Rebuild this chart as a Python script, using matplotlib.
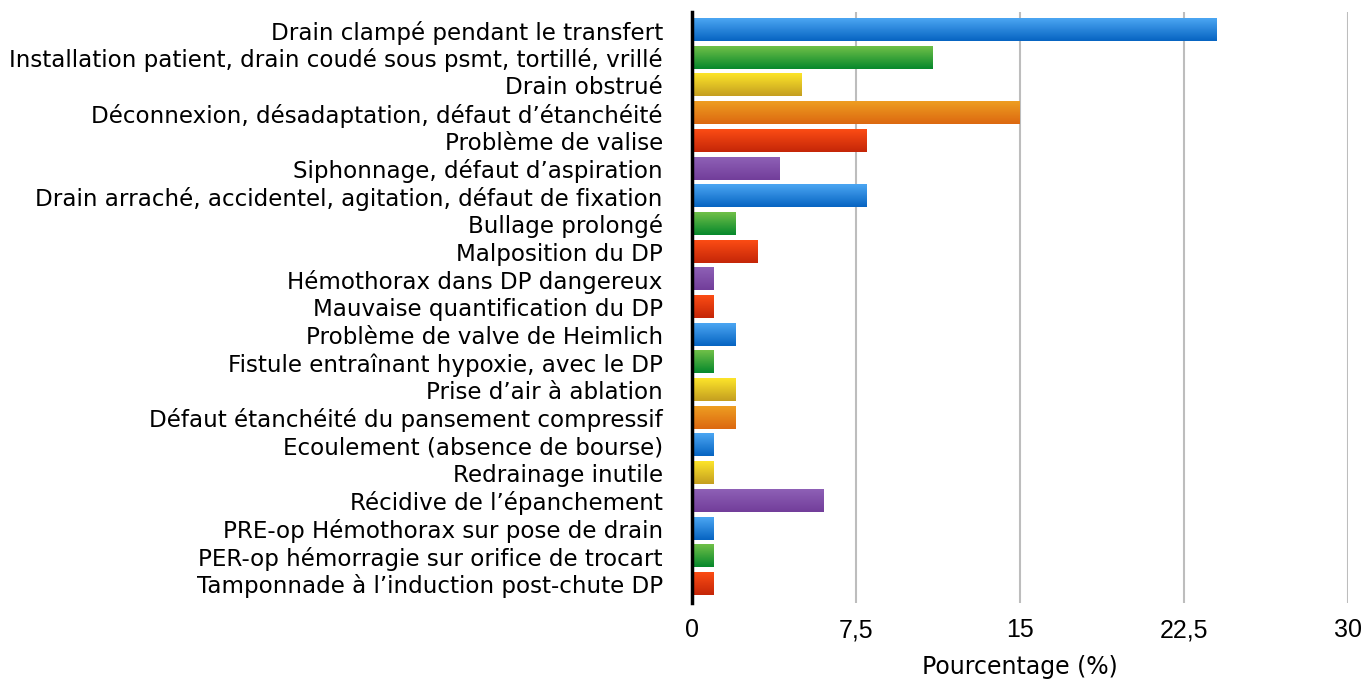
import numpy as np
import matplotlib.pyplot as plt
from matplotlib.colors import LinearSegmentedColormap

categories = [
    "Drain clampé pendant le transfert",
    "Installation patient, drain coudé sous psmt, tortillé, vrillé",
    "Drain obstrué",
    "Déconnexion, désadaptation, défaut d’étanchéité",
    "Problème de valise",
    "Siphonnage, défaut d’aspiration",
    "Drain arraché, accidentel, agitation, défaut de fixation",
    "Bullage prolongé",
    "Malposition du DP",
    "Hémothorax dans DP dangereux",
    "Mauvaise quantification du DP",
    "Problème de valve de Heimlich",
    "Fistule entraînant hypoxie, avec le DP",
    "Prise d’air à ablation",
    "Défaut étanchéité du pansement compressif",
    "Ecoulement (absence de bourse)",
    "Redrainage inutile",
    "Récidive de l’épanchement",
    "PRE-op Hémothorax sur pose de drain",
    "PER-op hémorragie sur orifice de trocart",
    "Tamponnade à l’induction post-chute DP",
]
values = [24, 11, 5, 15, 8, 4, 8, 2, 3, 1, 1, 2, 1, 2, 2, 1, 1, 6, 1, 1, 1]
bar_colors = ["blue", "green", "yellow", "orange", "red", "purple", "blue", "green",
              "red", "purple", "red", "blue", "green", "yellow", "orange", "blue",
              "yellow", "purple", "blue", "green", "red"]
x_ticks = [0, 7.5, 15, 22.5, 30]
x_tick_labels = ["0", "7,5", "15", "22,5", "30"]

# top / bottom colours of the gradient fill
gradients = {
    "blue": ("#4ba6f2", "#0764c2"),
    "green": ("#70c048", "#06882c"),
    "yellow": ("#fde52a", "#c49e20"),
    "orange": ("#ee9e22", "#dc6810"),
    "red": ("#fc4c14", "#c42608"),
    "purple": ("#8e60b6", "#723e9a"),
}

plt.rcParams['font.family'] = ['DejaVu Sans']

fig = plt.figure(figsize=(13.67, 6.83), dpi=100)
ax = fig.add_axes([692 / 1367, 1 - 603 / 683, 656 / 1367, 591 / 683])

h = 0.8
grad = np.linspace(0, 1, 64).reshape(-1, 1)
for i, (v, c) in enumerate(zip(values, bar_colors)):
    top, bot = gradients[c]
    cmap = LinearSegmentedColormap.from_list(c, [top, bot])
    ax.imshow(grad, cmap=cmap, aspect='auto', interpolation='bicubic',
              extent=(0, v, i + h / 2, i - h / 2), zorder=2)

ax.set_xlim(0, 30)
ax.set_ylim(len(values) - 1 + 0.69, -0.65)
ax.set_yticks(range(len(categories)))
ax.set_yticklabels(categories, fontsize=16.6)
ax.set_xticks(x_ticks)
ax.set_xticklabels(x_tick_labels, fontsize=18,
                   family=['Liberation Sans Narrow', 'Liberation Sans', 'DejaVu Sans'])
ax.tick_params(axis='both', length=0)
ax.tick_params(axis='y', pad=21)
ax.tick_params(axis='x', pad=11)
ax.set_xlabel("Pourcentage (%)", fontsize=17, labelpad=9)

for x in x_ticks[1:]:
    ax.axvline(x, color='#bdbdbd', lw=1.5, zorder=1)
for s in ['top', 'right', 'bottom']:
    ax.spines[s].set_visible(False)
ax.spines['left'].set_linewidth(2.5)
ax.spines['left'].set_zorder(3)

fig.savefig("out.png", dpi=100)
